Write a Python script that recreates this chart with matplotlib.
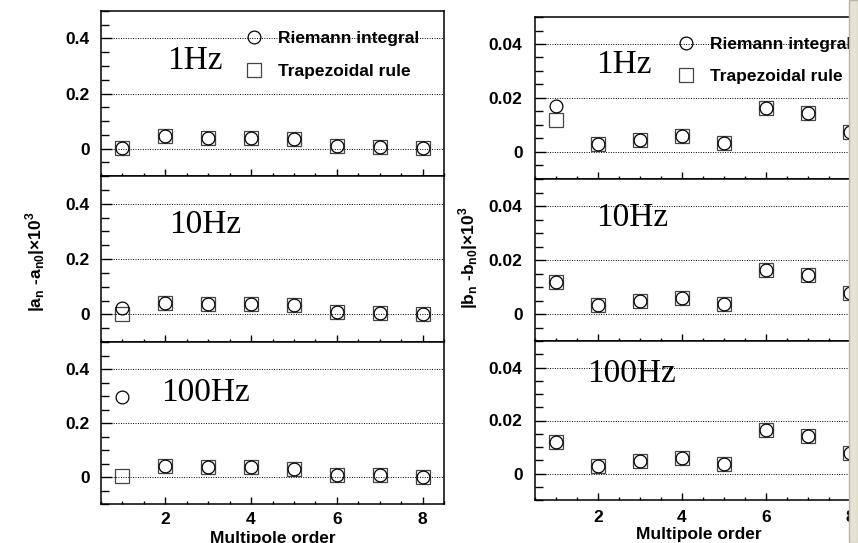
import matplotlib
matplotlib.use("Agg")
import matplotlib.pyplot as plt
from matplotlib.patches import Rectangle
from matplotlib.ticker import MultipleLocator, FuncFormatter

plt.rcParams['font.family'] = ['Liberation Sans', 'DejaVu Sans']
plt.rcParams['font.weight'] = 'bold'
plt.rcParams['axes.labelweight'] = 'bold'
plt.rcParams['mathtext.fontset'] = 'custom'
plt.rcParams['mathtext.bf'] = 'Liberation Sans:bold'
plt.rcParams['mathtext.rm'] = 'Liberation Sans:bold'

orders = [1, 2, 3, 4, 5, 6, 7, 8]
freqs = ['1Hz', '10Hz', '100Hz']

# |a_n - a_n0| x 1e3
a_riemann_1hz = [0.001, 0.045, 0.040, 0.037, 0.034, 0.009, 0.007, 0.001]
a_trap_1hz = [0.003, 0.045, 0.040, 0.037, 0.034, 0.009, 0.007, 0.001]
a_riemann_10hz = [0.024, 0.042, 0.037, 0.036, 0.033, 0.007, 0.005, 0.000]
a_trap_10hz = [0.002, 0.042, 0.037, 0.036, 0.033, 0.007, 0.005, 0.000]
a_riemann_100hz = [0.298, 0.041, 0.038, 0.036, 0.031, 0.007, 0.006, 0.000]
a_trap_100hz = [0.004, 0.041, 0.038, 0.036, 0.031, 0.007, 0.006, 0.000]

# |b_n - b_n0| x 1e3
b_riemann_1hz = [0.0170, 0.0030, 0.0046, 0.0058, 0.0035, 0.0162, 0.0143, 0.0074]
b_trap_1hz = [0.0117, 0.0030, 0.0046, 0.0058, 0.0035, 0.0162, 0.0143, 0.0074]
b_riemann_10hz = [0.0120, 0.0032, 0.0049, 0.0058, 0.0037, 0.0163, 0.0144, 0.0077]
b_trap_10hz = [0.0120, 0.0032, 0.0049, 0.0058, 0.0037, 0.0163, 0.0144, 0.0077]
b_riemann_100hz = [0.0119, 0.0030, 0.0047, 0.0057, 0.0035, 0.0164, 0.0143, 0.0077]
b_trap_100hz = [0.0119, 0.0030, 0.0047, 0.0057, 0.0035, 0.0164, 0.0143, 0.0077]

a_data = [(a_riemann_1hz, a_trap_1hz), (a_riemann_10hz, a_trap_10hz), (a_riemann_100hz, a_trap_100hz)]
b_data = [(b_riemann_1hz, b_trap_1hz), (b_riemann_10hz, b_trap_10hz), (b_riemann_100hz, b_trap_100hz)]

W, H = 858, 543


def box(x0, y0, x1, y1):
    # pixel box -> figure fraction
    return [x0 / W, 1 - y1 / H, (x1 - x0) / W, (y1 - y0) / H]


def style_axis(ax, ymin, ymax, ymajor, yminor, ypad, xpad):
    ax.set_xlim(0.5, 8.5)
    ax.set_ylim(ymin, ymax)
    ax.yaxis.set_major_locator(MultipleLocator(ymajor))
    ax.yaxis.set_minor_locator(MultipleLocator(yminor))
    ax.yaxis.set_major_formatter(FuncFormatter(lambda v, p: '%g' % round(v, 6)))
    ax.xaxis.set_major_locator(MultipleLocator(2))
    ax.xaxis.set_minor_locator(MultipleLocator(0.5))
    ax.tick_params(axis='y', which='major', direction='in', length=8, width=1, pad=ypad, labelsize=12.5)
    ax.tick_params(axis='y', which='minor', direction='in', length=6, width=1)
    ax.tick_params(axis='x', which='major', direction='in', length=5, width=1, pad=xpad, labelsize=12.5)
    ax.tick_params(axis='x', which='minor', direction='in', length=2.5, width=1)
    ax.grid(True, which='major', axis='y', color='black', linestyle=(0, (1, 1.5)), linewidth=0.7)
    for s in ax.spines.values():
        s.set_linewidth(1.1)


def draw_column(fig, data, boxes, ymin, ymax, ymajor, yminor, ypad, xpad, text_pos, legend_anchor):
    axes = []
    for i, (riemann, trap) in enumerate(data):
        ax = fig.add_axes(box(*boxes[i]))
        style_axis(ax, ymin, ymax, ymajor, yminor, ypad, xpad)
        ax.plot(orders, trap, linestyle='none', marker='s', markersize=10.2, markerfacecolor='none',
                markeredgecolor='#454545', markeredgewidth=0.9, label='Trapezoidal rule', zorder=3)
        ax.plot(orders, riemann, linestyle='none', marker='o', markersize=9.2, markerfacecolor='none',
                markeredgecolor='black', markeredgewidth=0.9, label='Riemann integral', zorder=4)
        ax.text(text_pos[i][0], text_pos[i][1], freqs[i], transform=ax.transAxes, ha='center', va='center',
                family=['Liberation Serif'], fontweight='normal', fontsize=24)
        if i < 2:
            ax.tick_params(axis='x', labelbottom=False)
        if i == 0:
            h, l = ax.get_legend_handles_labels()
            ax.legend(h[::-1], l[::-1], loc='upper left', bbox_to_anchor=legend_anchor, frameon=False,
                      fontsize=12.5, borderpad=0, handlelength=1.0, handletextpad=0.9, labelspacing=1.02,
                      borderaxespad=0)
        axes.append(ax)
    return axes


fig = plt.figure(figsize=(W / 100, H / 100), dpi=100)

left_boxes = [(101, 11, 444, 176), (101, 176, 444, 342), (101, 342, 444, 504)]
right_boxes = [(535, 17, 871, 179), (535, 179, 871, 341), (535, 341, 871, 500)]

left_axes = draw_column(fig, a_data, left_boxes, -0.1, 0.5, 0.2, 0.05, 8, 6,
                        [(0.274, 0.70), (0.303, 0.705), (0.306, 0.685)], (0.42, 0.88))
right_axes = draw_column(fig, b_data, right_boxes, -0.01, 0.05, 0.02, 0.005, 9, 7.5,
                         [(0.265, 0.704), (0.289, 0.76), (0.286, 0.795)], (0.423, 0.88))

left_axes[2].set_xlabel('Multipole order', fontsize=12.5, fontweight='bold')
left_axes[2].xaxis.set_label_coords(0.5, -(538 - 504) / 162)
left_axes[2].xaxis.label.set_va('center')
right_axes[2].set_xlabel('Multipole order', fontsize=12.5, fontweight='bold')
right_axes[2].xaxis.set_label_coords((699 - 535) / 336, -(534 - 500) / 159)
right_axes[2].xaxis.label.set_va('center')

fig.text(35 / W, 1 - 262 / H, r'|a$_\mathbf{n}$ -a$_\mathbf{n0}$|×10$^\mathbf{3}$', rotation=90,
         ha='center', va='center', fontsize=12.5, fontweight='bold')
fig.text(468 / W, 1 - 258 / H, r'|b$_\mathbf{n}$ -b$_\mathbf{n0}$|×10$^\mathbf{3}$', rotation=90,
         ha='center', va='center', fontsize=12.5, fontweight='bold')

# beige strip on the right edge
fig.add_artist(Rectangle((849 / W, 0), 1 - 849 / W, 1, transform=fig.transFigure,
                         facecolor='#E7E3D3', edgecolor='#B9B5A8', linewidth=1, zorder=10))

fig.savefig('out.png', dpi=100)
